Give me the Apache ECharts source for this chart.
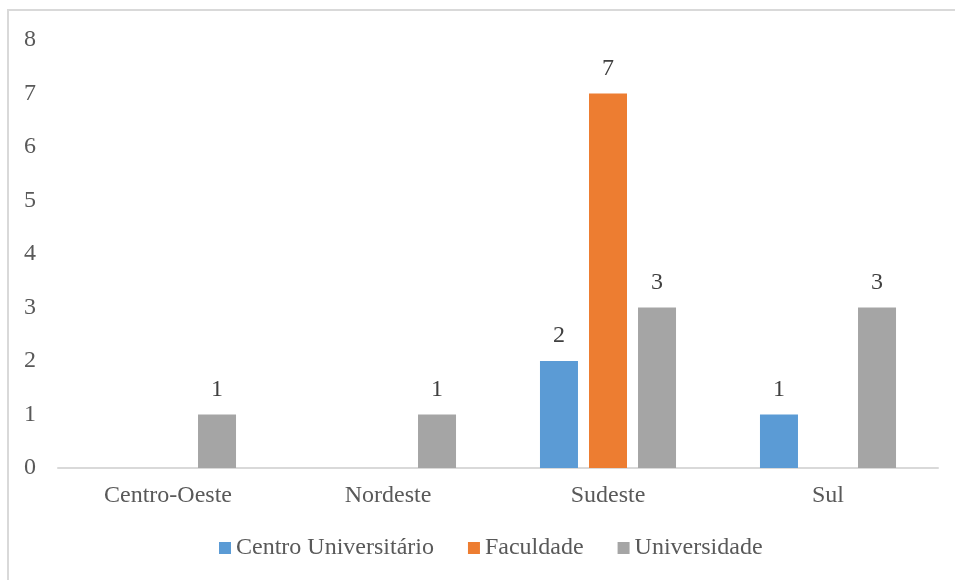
<!DOCTYPE html>
<html>
<head>
<meta charset="utf-8">
<script src="https://cdn.jsdelivr.net/npm/echarts@6/dist/echarts.min.js"></script>
<style>
  html, body { margin: 0; padding: 0; background: #fff; }
  #chart { width: 955px; height: 580px; }
</style>
</head>
<body>
<div id="chart"></div>
<script>
// Instituições por região
const regions = ['Centro-Oeste', 'Nordeste', 'Sudeste', 'Sul'];
const centroUniversitario = [null, null, 2, 1];
const faculdade = [null, null, 7, null];
const universidade = [1, 1, 3, 3];
const yTicks = [0, 1, 2, 3, 4, 5, 6, 7, 8];

const FONT = '"Liberation Serif", "Times New Roman", serif';
const FONT_SIZE = 24;

const chart = echarts.init(document.getElementById('chart'));

function barSeries(name, data, color) {
  return {
    name: name,
    type: 'bar',
    data: data,
    barWidth: 38,
    barGap: '29%',
    itemStyle: { color: color },
    label: {
      show: true,
      position: 'top',
      distance: 13,
      color: '#404040',
      fontFamily: FONT,
      fontSize: FONT_SIZE
    }
  };
}

chart.setOption({
  animation: false,
  backgroundColor: '#fff',
  graphic: [{
    type: 'rect',
    shape: { x: 8, y: 10, width: 1000, height: 1000 },
    style: { fill: 'none', stroke: '#d9d9d9', lineWidth: 2 },
    silent: true
  }],
  grid: { left: 58, right: 17, top: 40, bottom: 112, containLabel: false },
  legend: {
    top: 531,
    left: 214,
    itemWidth: 12,
    itemHeight: 12,
    itemGap: 34,
    icon: 'rect',
    textStyle: { color: '#595959', fontFamily: FONT, fontSize: FONT_SIZE },
    data: ['Centro Universitário', 'Faculdade', 'Universidade']
  },
  xAxis: {
    type: 'category',
    data: regions,
    axisLine: { lineStyle: { color: '#d9d9d9', width: 2 } },
    axisTick: { show: false },
    axisLabel: { color: '#595959', fontFamily: FONT, fontSize: FONT_SIZE, margin: 16 }
  },
  yAxis: {
    type: 'value',
    min: yTicks[0],
    max: yTicks[yTicks.length - 1],
    interval: 1,
    splitLine: { show: false },
    axisLine: { show: false },
    axisTick: { show: false },
    axisLabel: { color: '#595959', fontFamily: FONT, fontSize: FONT_SIZE, margin: 22 }
  },
  series: [
    barSeries('Centro Universitário', centroUniversitario, '#5b9bd5'),
    barSeries('Faculdade', faculdade, '#ed7d31'),
    barSeries('Universidade', universidade, '#a5a5a5')
  ]
});
</script>
</body>
</html>
